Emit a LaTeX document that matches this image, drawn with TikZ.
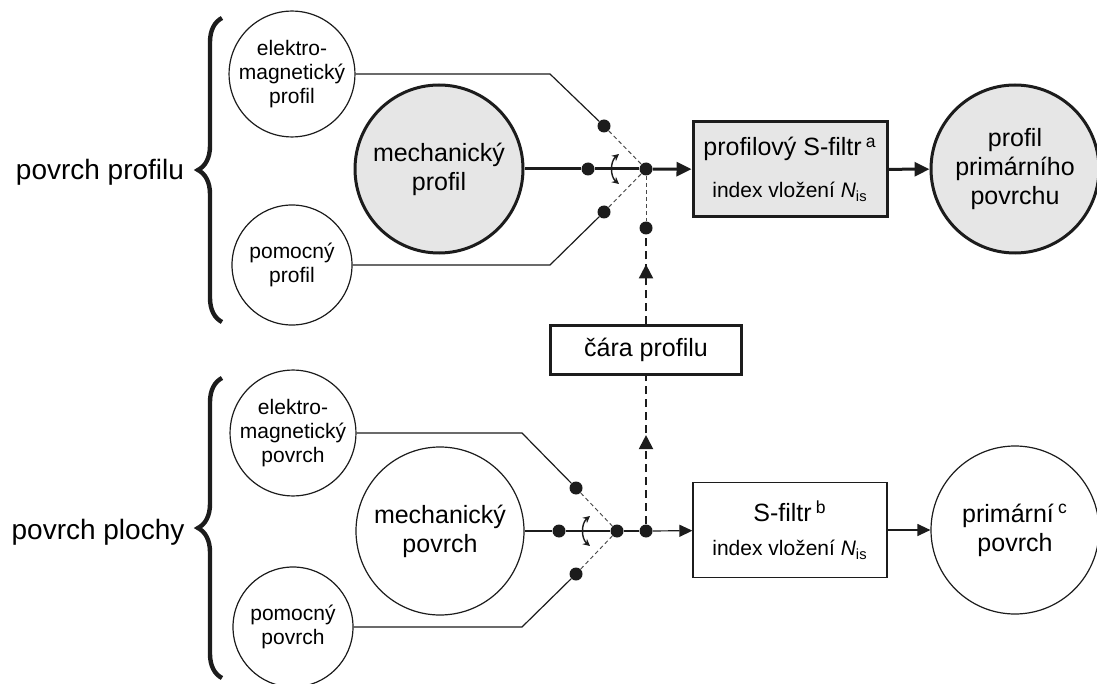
\documentclass[tikz,border=0pt]{standalone}
\usepackage{fontspec}
\setmainfont{Liberation Sans}
\usetikzlibrary{arrows.meta,decorations.pathreplacing,decorations.markings}
\definecolor{ink}{HTML}{1C1C1C}
\definecolor{shade}{HTML}{E6E6E6}

\begin{document}
\begin{tikzpicture}[x=0.5pt,y=-0.5pt]
\tikzset{src/.style = {circle, draw=ink, line width=0.6pt, minimum size=60pt, inner sep=0pt, align=center, font=\fontsize{10.5}{12}\selectfont},
  bigcirc/.style = {circle, draw=ink, line width=0.6pt, minimum size=84pt, inner sep=0pt, align=center, font=\fontsize{12.5}{14.5}\selectfont},
  filt/.style = {rectangle, draw=ink, line width=0.6pt, minimum width=97pt, minimum height=47.5pt, inner sep=0pt, align=center, font=\fontsize{12.5}{15}\selectfont},
  heavy/.style = {line width=1.5pt, fill=shade},
  dot/.style = {circle, fill=ink, minimum size=6.5pt, inner sep=0pt},
  side/.style = {font=\fontsize{14}{16}\selectfont, inner sep=0pt},
  wire/.style = {draw=ink, line width=0.6pt},
  flow/.style = {draw=ink, line width=1.5pt, -{Triangle[length=7.5pt,width=7pt]}},
  thinflow/.style = {draw=ink, line width=0.6pt, -{Triangle[length=6.5pt,width=6pt]}},
  hint/.style = {draw=ink!80, line width=0.5pt, dash pattern=on 2pt off 1.5pt},
  feed/.style = {draw=ink, line width=1pt, dash pattern=on 4pt off 2.5pt, decoration={markings, mark=at position #1 with {\arrow{Triangle[length=7pt,width=7pt]}}}, postaction={decorate}},
  swing/.style = {draw=ink, line width=0.7pt, {Stealth[length=3.5pt,width=3.5pt]}-{Stealth[length=3.5pt,width=3.5pt]}},
  brc/.style = {draw=ink, line width=2.2pt, decoration={brace, amplitude=12pt}, decorate}}
\useasboundingbox (0,0) rectangle (1097,684);

\node[side] (lblP) at (100,172) {povrch profilu};
\node[side] (lblS) at (98,532) {povrch plochy};
\draw[brc] (222,322) -- (222,18);
\draw[brc] (222,678) -- (222,378);

\node[src] (emP) at (292,74) {elektro-\\magnetický\\profil};
\node[src] (pomP) at (292,265) {pomocný\\profil};
\node[bigcirc, heavy] (mechP) at (439,169) {mechanický\\profil};
\node[filt, heavy] (sfP) at (790,169.5) {profilový S-filtr\,\textsuperscript{a}\\[6pt]{\fontsize{10.5}{12}\selectfont index vložení \textit{N}\textsubscript{is}}};
\node[bigcirc, heavy] (primP) at (1015,169) {profil\\primárního\\povrchu};

\node[src] (emS) at (293,433) {elektro-\\magnetický\\povrch};
\node[src] (pomS) at (293,627) {pomocný\\povrch};
\node[bigcirc] (mechS) at (440,531) {mechanický\\povrch};
\node[filt] (sfS) at (790,530) {S-filtr\,\textsuperscript{b}\\[2pt]{\fontsize{10.5}{12}\selectfont index vložení \textit{N}\textsubscript{is}}};
\node[bigcirc] (primS) at (1015,530) {primární\,\textsuperscript{c}\\povrch};

\node[filt, line width=1.2pt, minimum width=95.5pt, minimum height=24.5pt] (cara) at (646,350) {čára profilu};

\node[dot] (dPe) at (604,126) {}; \node[dot] (dPm) at (588,169) {}; \node[dot] (dPa) at (604,212) {};
\node[dot] (jP) at (646,169) {}; \node[dot] (dPc) at (646,228) {};
\node[dot] (dSe) at (576,488) {}; \node[dot] (dSm) at (559,531) {}; \node[dot] (dSa) at (576,574) {};
\node[dot] (jS) at (617,531) {}; \node[dot] (dSc) at (646,531) {};

\coordinate (kPe) at (550,74); \coordinate (kPa) at (550,265);
\coordinate (kSe) at (522,433); \coordinate (kSa) at (522,627);
\coordinate (swPa) at (619,154); \coordinate (swPb) at (619,184);
\coordinate (swSa) at (590,516); \coordinate (swSb) at (590,546);

\draw[wire] (emP) -- (kPe) -- (dPe); \draw[wire] (pomP) -- (kPa) -- (dPa);
\draw[wire] (emS) -- (kSe) -- (dSe); \draw[wire] (pomS) -- (kSa) -- (dSa);
\draw[hint] (dPe) -- (jP); \draw[hint] (dPa) -- (jP); \draw[hint] (jP) -- (dPc);
\draw[hint] (dSe) -- (jS); \draw[hint] (dSa) -- (jS);
\draw[swing] (swPa) to[bend right=50] (swPb); \draw[swing] (swSa) to[bend right=50] (swSb);

\draw[draw=ink, line width=1.5pt] (mechP) -- (dPm) -- (jP);
\draw[flow] (jP) -- (sfP); \draw[flow] (sfP) -- (primP);
\draw[wire] (mechS) -- (dSm); \draw[draw=ink, line width=1.1pt] (dSm) -- (jS); \draw[wire] (jS) -- (dSc);
\draw[thinflow] (dSc) -- (sfS); \draw[thinflow] (sfS) -- (primS);

\draw[feed=0.67] (cara) -- (dPc);
\draw[feed=0.6] (dSc) -- (cara);
\end{tikzpicture}
\end{document}
